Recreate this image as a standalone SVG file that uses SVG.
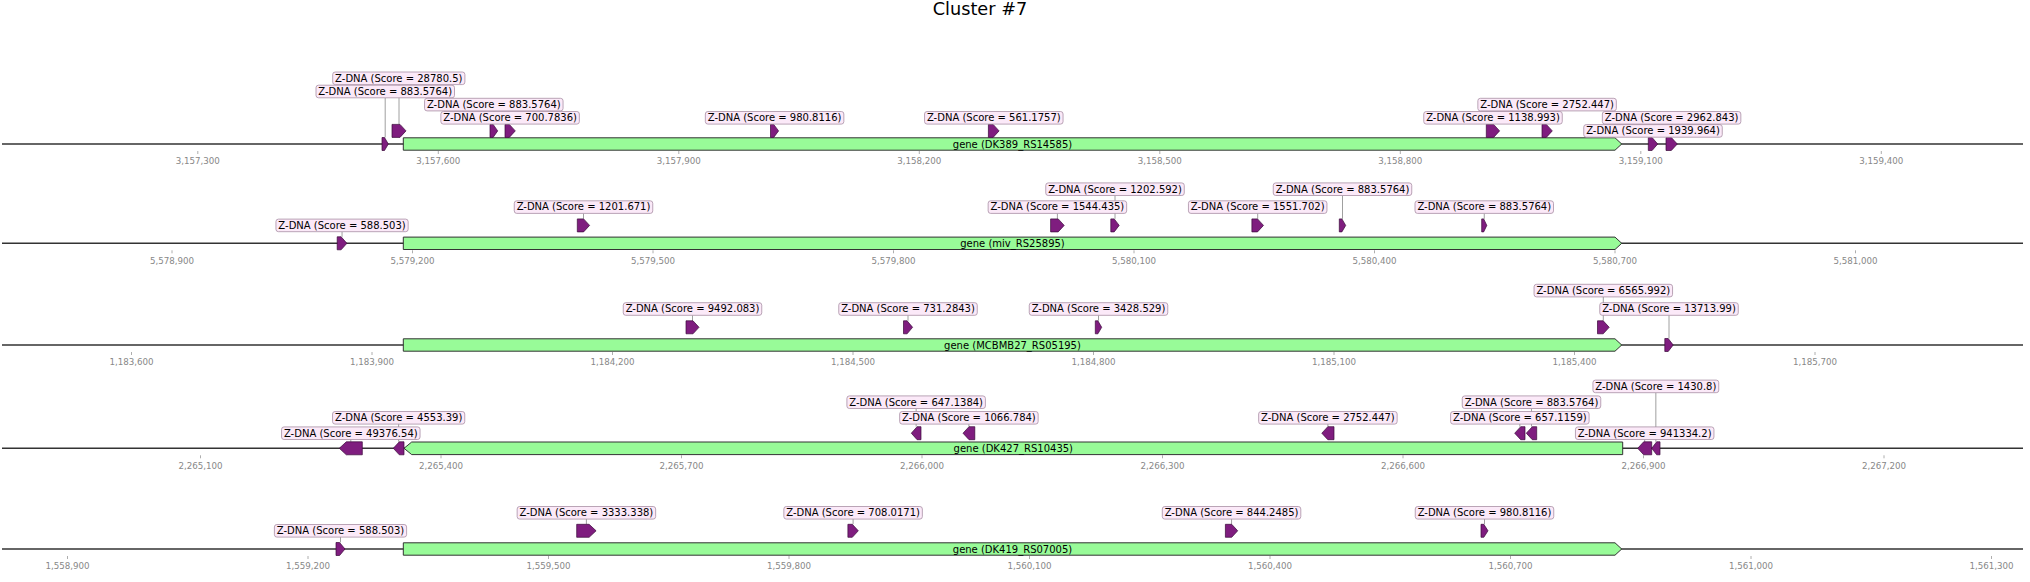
<svg xmlns="http://www.w3.org/2000/svg" width="2030" height="582" viewBox="0 0 2030 582">
<style>
.bg{fill:#fff}
.base{stroke:#333;stroke-width:1.6;fill:none}
.tick{stroke:#999;stroke-width:0.8}
.tl{font-family:"DejaVu Sans",sans-serif;font-size:8.7px;fill:#888;text-anchor:middle}
.gene{fill:#98fb98;stroke:#333;stroke-width:1}
.gl{font-family:"DejaVu Sans",sans-serif;font-size:10px;fill:#000;text-anchor:middle}
.feat{fill:#7f1d7f;stroke:#3a0a3a;stroke-width:0.7}
.box{fill:#fbe9f8;stroke:#a88fa5;stroke-width:0.8}
.lbl{font-family:"DejaVu Sans",sans-serif;font-size:10px;fill:#000;text-anchor:middle}
.lead{stroke:#888;stroke-width:0.8}
.title{font-family:"DejaVu Sans",sans-serif;font-size:17.7px;fill:#000;text-anchor:middle}
</style>
<rect class="bg" x="0" y="0" width="2030" height="582"/>
<text class="title" x="980" y="14.5">Cluster #7</text>

<g id="axes">
<line class="base" x1="2" y1="144" x2="2023" y2="144"/>
<line class="base" x1="2" y1="243.3" x2="2023" y2="243.3"/>
<line class="base" x1="2" y1="345" x2="2023" y2="345"/>
<line class="base" x1="2" y1="448.3" x2="2023" y2="448.3"/>
<line class="base" x1="2" y1="549" x2="2023" y2="549"/>
<g id="ticks1">
<line class="tick" x1="197.8" y1="151" x2="197.8" y2="154"/><text class="tl" x="197.8" y="164.2">3,157,300</text>
<line class="tick" x1="438.3" y1="151" x2="438.3" y2="154"/><text class="tl" x="438.3" y="164.2">3,157,600</text>
<line class="tick" x1="678.8" y1="151" x2="678.8" y2="154"/><text class="tl" x="678.8" y="164.2">3,157,900</text>
<line class="tick" x1="919.3" y1="151" x2="919.3" y2="154"/><text class="tl" x="919.3" y="164.2">3,158,200</text>
<line class="tick" x1="1159.8" y1="151" x2="1159.8" y2="154"/><text class="tl" x="1159.8" y="164.2">3,158,500</text>
<line class="tick" x1="1400.3" y1="151" x2="1400.3" y2="154"/><text class="tl" x="1400.3" y="164.2">3,158,800</text>
<line class="tick" x1="1640.8" y1="151" x2="1640.8" y2="154"/><text class="tl" x="1640.8" y="164.2">3,159,100</text>
<line class="tick" x1="1881.3" y1="151" x2="1881.3" y2="154"/><text class="tl" x="1881.3" y="164.2">3,159,400</text>
</g>
<g id="ticks2">
<line class="tick" x1="172" y1="250.3" x2="172" y2="253.3"/><text class="tl" x="172" y="263.5">5,578,900</text>
<line class="tick" x1="412.5" y1="250.3" x2="412.5" y2="253.3"/><text class="tl" x="412.5" y="263.5">5,579,200</text>
<line class="tick" x1="653" y1="250.3" x2="653" y2="253.3"/><text class="tl" x="653" y="263.5">5,579,500</text>
<line class="tick" x1="893.5" y1="250.3" x2="893.5" y2="253.3"/><text class="tl" x="893.5" y="263.5">5,579,800</text>
<line class="tick" x1="1134" y1="250.3" x2="1134" y2="253.3"/><text class="tl" x="1134" y="263.5">5,580,100</text>
<line class="tick" x1="1374.5" y1="250.3" x2="1374.5" y2="253.3"/><text class="tl" x="1374.5" y="263.5">5,580,400</text>
<line class="tick" x1="1615" y1="250.3" x2="1615" y2="253.3"/><text class="tl" x="1615" y="263.5">5,580,700</text>
<line class="tick" x1="1855.5" y1="250.3" x2="1855.5" y2="253.3"/><text class="tl" x="1855.5" y="263.5">5,581,000</text>
</g>
<g id="ticks3">
<line class="tick" x1="131.5" y1="352" x2="131.5" y2="355"/><text class="tl" x="131.5" y="365.2">1,183,600</text>
<line class="tick" x1="372" y1="352" x2="372" y2="355"/><text class="tl" x="372" y="365.2">1,183,900</text>
<line class="tick" x1="612.5" y1="352" x2="612.5" y2="355"/><text class="tl" x="612.5" y="365.2">1,184,200</text>
<line class="tick" x1="853" y1="352" x2="853" y2="355"/><text class="tl" x="853" y="365.2">1,184,500</text>
<line class="tick" x1="1093.5" y1="352" x2="1093.5" y2="355"/><text class="tl" x="1093.5" y="365.2">1,184,800</text>
<line class="tick" x1="1334" y1="352" x2="1334" y2="355"/><text class="tl" x="1334" y="365.2">1,185,100</text>
<line class="tick" x1="1574.5" y1="352" x2="1574.5" y2="355"/><text class="tl" x="1574.5" y="365.2">1,185,400</text>
<line class="tick" x1="1815" y1="352" x2="1815" y2="355"/><text class="tl" x="1815" y="365.2">1,185,700</text>
</g>
<g id="ticks4">
<line class="tick" x1="200.5" y1="455.3" x2="200.5" y2="458.3"/><text class="tl" x="200.5" y="468.5">2,265,100</text>
<line class="tick" x1="441" y1="455.3" x2="441" y2="458.3"/><text class="tl" x="441" y="468.5">2,265,400</text>
<line class="tick" x1="681.5" y1="455.3" x2="681.5" y2="458.3"/><text class="tl" x="681.5" y="468.5">2,265,700</text>
<line class="tick" x1="922" y1="455.3" x2="922" y2="458.3"/><text class="tl" x="922" y="468.5">2,266,000</text>
<line class="tick" x1="1162.5" y1="455.3" x2="1162.5" y2="458.3"/><text class="tl" x="1162.5" y="468.5">2,266,300</text>
<line class="tick" x1="1403" y1="455.3" x2="1403" y2="458.3"/><text class="tl" x="1403" y="468.5">2,266,600</text>
<line class="tick" x1="1643.5" y1="455.3" x2="1643.5" y2="458.3"/><text class="tl" x="1643.5" y="468.5">2,266,900</text>
<line class="tick" x1="1884" y1="455.3" x2="1884" y2="458.3"/><text class="tl" x="1884" y="468.5">2,267,200</text>
</g>
<g id="ticks5">
<line class="tick" x1="67.5" y1="556" x2="67.5" y2="559"/><text class="tl" x="67.5" y="569.2">1,558,900</text>
<line class="tick" x1="308" y1="556" x2="308" y2="559"/><text class="tl" x="308" y="569.2">1,559,200</text>
<line class="tick" x1="548.5" y1="556" x2="548.5" y2="559"/><text class="tl" x="548.5" y="569.2">1,559,500</text>
<line class="tick" x1="789" y1="556" x2="789" y2="559"/><text class="tl" x="789" y="569.2">1,559,800</text>
<line class="tick" x1="1029.5" y1="556" x2="1029.5" y2="559"/><text class="tl" x="1029.5" y="569.2">1,560,100</text>
<line class="tick" x1="1270" y1="556" x2="1270" y2="559"/><text class="tl" x="1270" y="569.2">1,560,400</text>
<line class="tick" x1="1510.5" y1="556" x2="1510.5" y2="559"/><text class="tl" x="1510.5" y="569.2">1,560,700</text>
<line class="tick" x1="1751" y1="556" x2="1751" y2="559"/><text class="tl" x="1751" y="569.2">1,561,000</text>
<line class="tick" x1="1991.5" y1="556" x2="1991.5" y2="559"/><text class="tl" x="1991.5" y="569.2">1,561,300</text>
</g>
</g>

<g id="connectors">
<line class="lead" x1="385.2" y1="137.5" x2="385.2" y2="97.8"/>
<line class="lead" x1="399" y1="124.4" x2="399" y2="84.6"/>
<line class="lead" x1="493.8" y1="124.4" x2="493.8" y2="110.9"/>
<line class="lead" x1="1547.1" y1="124.4" x2="1547.1" y2="110.9"/>
<line class="lead" x1="1671.6" y1="137.5" x2="1671.6" y2="124.1"/>
<line class="lead" x1="342.05" y1="236.8" x2="342.05" y2="231.7"/>
<line class="lead" x1="583.5" y1="218.9" x2="583.5" y2="213.4"/>
<line class="lead" x1="1057.4" y1="218.9" x2="1057.4" y2="213.4"/>
<line class="lead" x1="1115" y1="218.9" x2="1115" y2="195.5"/>
<line class="lead" x1="1257.7" y1="218.9" x2="1257.7" y2="213.4"/>
<line class="lead" x1="1342.5" y1="218.9" x2="1342.5" y2="195.5"/>
<line class="lead" x1="1484.25" y1="218.9" x2="1484.25" y2="213.4"/>
<line class="lead" x1="692.5" y1="320.8" x2="692.5" y2="315.3"/>
<line class="lead" x1="908" y1="320.8" x2="908" y2="315.3"/>
<line class="lead" x1="1098.5" y1="320.8" x2="1098.5" y2="315.3"/>
<line class="lead" x1="1603.3" y1="320.8" x2="1603.3" y2="296.9"/>
<line class="lead" x1="1669" y1="338.5" x2="1669" y2="315.3"/>
<line class="lead" x1="350.8" y1="441.8" x2="350.8" y2="439.5"/>
<line class="lead" x1="398.65" y1="441.8" x2="398.65" y2="424.1"/>
<line class="lead" x1="916.15" y1="426.7" x2="916.15" y2="408.5"/>
<line class="lead" x1="968.9" y1="426.7" x2="968.9" y2="424.1"/>
<line class="lead" x1="1327.9" y1="426.7" x2="1327.9" y2="424.1"/>
<line class="lead" x1="1519.85" y1="426.7" x2="1519.85" y2="424.1"/>
<line class="lead" x1="1531.5" y1="426.7" x2="1531.5" y2="408.5"/>
<line class="lead" x1="1644.7" y1="441.8" x2="1644.7" y2="439.5"/>
<line class="lead" x1="1655.85" y1="441.8" x2="1655.85" y2="392.7"/>
<line class="lead" x1="340.5" y1="542.5" x2="340.5" y2="537.1"/>
<line class="lead" x1="586.4" y1="524.3" x2="586.4" y2="519.1"/>
<line class="lead" x1="853.1" y1="524.3" x2="853.1" y2="519.1"/>
<line class="lead" x1="1231.55" y1="524.3" x2="1231.55" y2="519.1"/>
<line class="lead" x1="1484.5" y1="524.3" x2="1484.5" y2="519.1"/>
</g>

<!-- Track 1 -->
<g id="gene1"><polygon class="gene" points="403.3,137.8 1615,137.8 1621.7,144 1615,150.2 403.3,150.2"/><text class="gl" x="1012.5" y="147.5">gene (DK389_RS14585)</text></g>
<g id="t1f1"><polygon class="feat" points="382,137.5 384.5,137.5 388.3,144 384.5,150.5 382,150.5"/></g>
<g id="t1f2"><polygon class="feat" points="392,124.4 400,124.4 406,130.9 400,137.4 392,137.4"/></g>
<g id="t1f3"><polygon class="feat" points="490,124.4 493.1,124.4 497.7,130.9 493.1,137.4 490,137.4"/></g>
<g id="t1f4"><polygon class="feat" points="505,124.4 509.3,124.4 515.3,130.9 509.3,137.4 505,137.4"/></g>
<g id="t1f5"><polygon class="feat" points="770.5,124.4 773.7,124.4 778.6,130.9 773.7,137.4 770.5,137.4"/></g>
<g id="t1f6"><polygon class="feat" points="988.4,124.4 993.1,124.4 999.1,130.9 993.1,137.4 988.4,137.4"/></g>
<g id="t1f7"><polygon class="feat" points="1486.3,124.4 1493.6,124.4 1499.6,130.9 1493.6,137.4 1486.3,137.4"/></g>
<g id="t1f8"><polygon class="feat" points="1542,124.4 1546.3,124.4 1552.3,130.9 1546.3,137.4 1542,137.4"/></g>
<g id="t1f9"><polygon class="feat" points="1648.3,137.5 1652.1,137.5 1657.7,144 1652.1,150.5 1648.3,150.5"/></g>
<g id="t1f10"><polygon class="feat" points="1666,137.5 1671.3,137.5 1677.3,144 1671.3,150.5 1666,150.5"/></g>
<g id="t1l1"><rect class="box" x="316" y="85.2" width="138.5" height="12.6" rx="2.5"/><text class="lbl" x="385.2" y="94.8">Z-DNA (Score = 883.5764)</text></g>
<g id="t1l2"><rect class="box" x="332.7" y="72" width="132.2" height="12.6" rx="2.5"/><text class="lbl" x="398.8" y="81.6">Z-DNA (Score = 28780.5)</text></g>
<g id="t1l3"><rect class="box" x="424.55" y="98.3" width="138.5" height="12.6" rx="2.5"/><text class="lbl" x="493.8" y="107.9">Z-DNA (Score = 883.5764)</text></g>
<g id="t1l4"><rect class="box" x="440.85" y="111.5" width="138.5" height="12.6" rx="2.5"/><text class="lbl" x="510.1" y="121.1">Z-DNA (Score = 700.7836)</text></g>
<g id="t1l5"><rect class="box" x="705.35" y="111.5" width="138.5" height="12.6" rx="2.5"/><text class="lbl" x="774.6" y="121.1">Z-DNA (Score = 980.8116)</text></g>
<g id="t1l6"><rect class="box" x="924.55" y="111.5" width="138.5" height="12.6" rx="2.5"/><text class="lbl" x="993.8" y="121.1">Z-DNA (Score = 561.1757)</text></g>
<g id="t1l7"><rect class="box" x="1423.75" y="111.5" width="138.5" height="12.6" rx="2.5"/><text class="lbl" x="1493" y="121.1">Z-DNA (Score = 1138.993)</text></g>
<g id="t1l8"><rect class="box" x="1477.85" y="98.3" width="138.5" height="12.6" rx="2.5"/><text class="lbl" x="1547.1" y="107.9">Z-DNA (Score = 2752.447)</text></g>
<g id="t1l9"><rect class="box" x="1583.75" y="124.6" width="138.5" height="12.6" rx="2.5"/><text class="lbl" x="1653" y="134.2">Z-DNA (Score = 1939.964)</text></g>
<g id="t1l10"><rect class="box" x="1602.35" y="111.5" width="138.5" height="12.6" rx="2.5"/><text class="lbl" x="1671.6" y="121.1">Z-DNA (Score = 2962.843)</text></g>

<!-- Track 2 -->
<g id="gene2"><polygon class="gene" points="403.3,237.1 1615,237.1 1621.7,243.3 1615,249.5 403.3,249.5"/><text class="gl" x="1012.5" y="246.8">gene (miv_RS25895)</text></g>
<g id="t2f1"><polygon class="feat" points="337.2,236.8 341.1,236.8 346.9,243.3 341.1,249.8 337.2,249.8"/></g>
<g id="t2f2"><polygon class="feat" points="577.3,218.9 583.6,218.9 589.6,225.4 583.6,231.9 577.3,231.9"/></g>
<g id="t2f3"><polygon class="feat" points="1050.6,218.9 1058.2,218.9 1064.2,225.4 1058.2,231.9 1050.6,231.9"/></g>
<g id="t2f4"><polygon class="feat" points="1110.8,218.9 1114.2,218.9 1119.2,225.4 1114.2,231.9 1110.8,231.9"/></g>
<g id="t2f5"><polygon class="feat" points="1251.9,218.9 1257.5,218.9 1263.5,225.4 1257.5,231.9 1251.9,231.9"/></g>
<g id="t2f6"><polygon class="feat" points="1339.3,218.9 1341.9,218.9 1345.7,225.4 1341.9,231.9 1339.3,231.9"/></g>
<g id="t2f7"><polygon class="feat" points="1481.7,218.9 1483.7,218.9 1486.8,225.4 1483.7,231.9 1481.7,231.9"/></g>
<g id="t2l1"><rect class="box" x="275.95" y="219.1" width="132.2" height="12.6" rx="2.5"/><text class="lbl" x="342.05" y="228.7">Z-DNA (Score = 588.503)</text></g>
<g id="t2l2"><rect class="box" x="514.25" y="200.8" width="138.5" height="12.6" rx="2.5"/><text class="lbl" x="583.5" y="210.4">Z-DNA (Score = 1201.671)</text></g>
<g id="t2l3"><rect class="box" x="988.15" y="200.8" width="138.5" height="12.6" rx="2.5"/><text class="lbl" x="1057.4" y="210.4">Z-DNA (Score = 1544.435)</text></g>
<g id="t2l4"><rect class="box" x="1045.75" y="182.9" width="138.5" height="12.6" rx="2.5"/><text class="lbl" x="1115" y="192.5">Z-DNA (Score = 1202.592)</text></g>
<g id="t2l5"><rect class="box" x="1188.45" y="200.8" width="138.5" height="12.6" rx="2.5"/><text class="lbl" x="1257.7" y="210.4">Z-DNA (Score = 1551.702)</text></g>
<g id="t2l6"><rect class="box" x="1273.25" y="182.9" width="138.5" height="12.6" rx="2.5"/><text class="lbl" x="1342.5" y="192.5">Z-DNA (Score = 883.5764)</text></g>
<g id="t2l7"><rect class="box" x="1415" y="200.8" width="138.5" height="12.6" rx="2.5"/><text class="lbl" x="1484.25" y="210.4">Z-DNA (Score = 883.5764)</text></g>

<!-- Track 3 -->
<g id="gene3"><polygon class="gene" points="403.3,338.8 1615,338.8 1621.7,345 1615,351.2 403.3,351.2"/><text class="gl" x="1012.5" y="348.5">gene (MCBMB27_RS05195)</text></g>
<g id="t3f1"><polygon class="feat" points="686,320.8 693,320.8 699,327.3 693,333.8 686,333.8"/></g>
<g id="t3f2"><polygon class="feat" points="903.5,320.8 907.1,320.8 912.6,327.3 907.1,333.8 903.5,333.8"/></g>
<g id="t3f3"><polygon class="feat" points="1095.3,320.8 1097.9,320.8 1101.7,327.3 1097.9,333.8 1095.3,333.8"/></g>
<g id="t3f4"><polygon class="feat" points="1597.5,320.8 1603.2,320.8 1609.2,327.3 1603.2,333.8 1597.5,333.8"/></g>
<g id="t3f5"><polygon class="feat" points="1664.8,338.5 1668.2,338.5 1673.2,345 1668.2,351.5 1664.8,351.5"/></g>
<g id="t3l1"><rect class="box" x="623.25" y="302.7" width="138.5" height="12.6" rx="2.5"/><text class="lbl" x="692.5" y="312.3">Z-DNA (Score = 9492.083)</text></g>
<g id="t3l2"><rect class="box" x="838.75" y="302.7" width="138.5" height="12.6" rx="2.5"/><text class="lbl" x="908" y="312.3">Z-DNA (Score = 731.2843)</text></g>
<g id="t3l3"><rect class="box" x="1029.25" y="302.7" width="138.5" height="12.6" rx="2.5"/><text class="lbl" x="1098.5" y="312.3">Z-DNA (Score = 3428.529)</text></g>
<g id="t3l4"><rect class="box" x="1534.05" y="284.3" width="138.5" height="12.6" rx="2.5"/><text class="lbl" x="1603.3" y="293.9">Z-DNA (Score = 6565.992)</text></g>
<g id="t3l5"><rect class="box" x="1599.75" y="302.7" width="138.5" height="12.6" rx="2.5"/><text class="lbl" x="1669" y="312.3">Z-DNA (Score = 13713.99)</text></g>

<!-- Track 4 -->
<g id="gene4"><polygon class="gene" points="404,448.3 411.7,442 1622.7,442 1622.7,454.6 411.7,454.6"/><text class="gl" x="1013.3" y="451.8">gene (DK427_RS10435)</text></g>
<g id="t4f1"><polygon class="feat" points="339.3,448.3 346.3,441.8 362.3,441.8 362.3,454.8 346.3,454.8"/></g>
<g id="t4f2"><polygon class="feat" points="393.3,448.3 399.3,441.8 404,441.8 404,454.8 399.3,454.8"/></g>
<g id="t4f3"><polygon class="feat" points="911.3,433.2 917.1,426.7 921,426.7 921,439.7 917.1,439.7"/></g>
<g id="t4f4"><polygon class="feat" points="963,433.2 969,426.7 974.8,426.7 974.8,439.7 969,439.7"/></g>
<g id="t4f5"><polygon class="feat" points="1321.8,433.2 1327.8,426.7 1334,426.7 1334,439.7 1327.8,439.7"/></g>
<g id="t4f6"><polygon class="feat" points="1514.7,433.2 1520.7,426.7 1525,426.7 1525,439.7 1520.7,439.7"/></g>
<g id="t4f7"><polygon class="feat" points="1526.3,433.2 1532.3,426.7 1536.7,426.7 1536.7,439.7 1532.3,439.7"/></g>
<g id="t4f8"><polygon class="feat" points="1637.7,448.3 1643.7,441.8 1651.7,441.8 1651.7,454.8 1643.7,454.8"/></g>
<g id="t4f9"><polygon class="feat" points="1651.7,448.3 1656.7,441.8 1660,441.8 1660,454.8 1656.7,454.8"/></g>
<g id="t4l1"><rect class="box" x="281.55" y="426.9" width="138.5" height="12.6" rx="2.5"/><text class="lbl" x="350.8" y="436.5">Z-DNA (Score = 49376.54)</text></g>
<g id="t4l2"><rect class="box" x="332.55" y="411.5" width="132.2" height="12.6" rx="2.5"/><text class="lbl" x="398.65" y="421.1">Z-DNA (Score = 4553.39)</text></g>
<g id="t4l3"><rect class="box" x="846.9" y="395.9" width="138.5" height="12.6" rx="2.5"/><text class="lbl" x="916.15" y="405.5">Z-DNA (Score = 647.1384)</text></g>
<g id="t4l4"><rect class="box" x="899.65" y="411.5" width="138.5" height="12.6" rx="2.5"/><text class="lbl" x="968.9" y="421.1">Z-DNA (Score = 1066.784)</text></g>
<g id="t4l5"><rect class="box" x="1258.65" y="411.5" width="138.5" height="12.6" rx="2.5"/><text class="lbl" x="1327.9" y="421.1">Z-DNA (Score = 2752.447)</text></g>
<g id="t4l6"><rect class="box" x="1450.6" y="411.5" width="138.5" height="12.6" rx="2.5"/><text class="lbl" x="1519.85" y="421.1">Z-DNA (Score = 657.1159)</text></g>
<g id="t4l7"><rect class="box" x="1462.25" y="395.9" width="138.5" height="12.6" rx="2.5"/><text class="lbl" x="1531.5" y="405.5">Z-DNA (Score = 883.5764)</text></g>
<g id="t4l8"><rect class="box" x="1575.45" y="426.9" width="138.5" height="12.6" rx="2.5"/><text class="lbl" x="1644.7" y="436.5">Z-DNA (Score = 941334.2)</text></g>
<g id="t4l9"><rect class="box" x="1592.95" y="380.1" width="125.8" height="12.6" rx="2.5"/><text class="lbl" x="1655.85" y="389.7">Z-DNA (Score = 1430.8)</text></g>

<!-- Track 5 -->
<g id="gene5"><polygon class="gene" points="403.3,542.8 1615,542.8 1621.7,549 1615,555.2 403.3,555.2"/><text class="gl" x="1012.5" y="552.5">gene (DK419_RS07005)</text></g>
<g id="t5f1"><polygon class="feat" points="336,542.5 339.6,542.5 345,549 339.6,555.5 336,555.5"/></g>
<g id="t5f2"><polygon class="feat" points="576.7,524.3 589.1,524.3 596.1,530.8 589.1,537.3 576.7,537.3"/></g>
<g id="t5f3"><polygon class="feat" points="847.9,524.3 852.3,524.3 858.3,530.8 852.3,537.3 847.9,537.3"/></g>
<g id="t5f4"><polygon class="feat" points="1225.4,524.3 1231.7,524.3 1237.7,530.8 1231.7,537.3 1225.4,537.3"/></g>
<g id="t5f5"><polygon class="feat" points="1481,524.3 1483.8,524.3 1488,530.8 1483.8,537.3 1481,537.3"/></g>
<g id="t5l1"><rect class="box" x="274.4" y="524.5" width="132.2" height="12.6" rx="2.5"/><text class="lbl" x="340.5" y="534.1">Z-DNA (Score = 588.503)</text></g>
<g id="t5l2"><rect class="box" x="517.15" y="506.5" width="138.5" height="12.6" rx="2.5"/><text class="lbl" x="586.4" y="516.1">Z-DNA (Score = 3333.338)</text></g>
<g id="t5l3"><rect class="box" x="783.85" y="506.5" width="138.5" height="12.6" rx="2.5"/><text class="lbl" x="853.1" y="516.1">Z-DNA (Score = 708.0171)</text></g>
<g id="t5l4"><rect class="box" x="1162.3" y="506.5" width="138.5" height="12.6" rx="2.5"/><text class="lbl" x="1231.55" y="516.1">Z-DNA (Score = 844.2485)</text></g>
<g id="t5l5"><rect class="box" x="1415.25" y="506.5" width="138.5" height="12.6" rx="2.5"/><text class="lbl" x="1484.5" y="516.1">Z-DNA (Score = 980.8116)</text></g>
</svg>
